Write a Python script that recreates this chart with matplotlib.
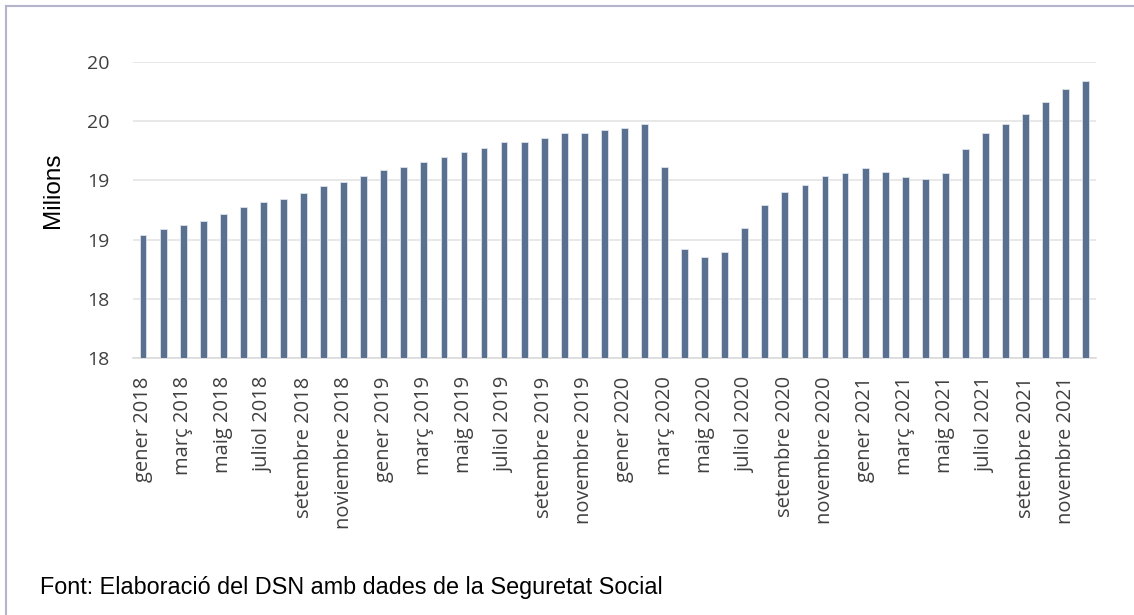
import numpy as np
import matplotlib.pyplot as plt
from matplotlib.lines import Line2D

# afiliats mensuals (milions), gener 2018 - desembre 2021
mesos = ['gener', 'febrer', 'març', 'abril', 'maig', 'juny', 'juliol', 'agost',
         'setembre', 'octubre', 'novembre', 'desembre']
anys = [2018, 2019, 2020, 2021]
valors = [18.540, 18.588, 18.621, 18.658, 18.717, 18.773, 18.818, 18.846,
          18.891, 18.955, 18.984, 19.040,
          19.088, 19.116, 19.155, 19.197, 19.237, 19.276, 19.321, 19.326,
          19.355, 19.397, 19.402, 19.425,
          19.442, 19.478, 19.116, 18.422, 18.354, 18.399, 18.596, 18.795,
          18.902, 18.961, 19.037, 19.062,
          19.105, 19.071, 19.026, 19.014, 19.062, 19.265, 19.397, 19.476,
          19.557, 19.664, 19.771, 19.841]
etiquetes = [f'{m} {a}' for a in anys for m in mesos]
etiquetes[10] = 'noviembre 2018'
y_ticks = [17.5, 18.0, 18.5, 19.0, 19.5, 20.0]
y_labels = ['18', '18', '19', '19', '20', '20']

fig = plt.figure(figsize=(11.34, 6.15), dpi=100)
ax = fig.add_axes([0.1173, 0.4174, 0.849, 0.4823])

x = np.arange(len(valors))
ax.bar(x, np.array(valors) - 17.5, bottom=17.5, width=0.34,
       color='#5A7090', edgecolor='#DDE3EC', linewidth=0.6, zorder=3)

ax.set_xlim(-0.5, len(valors) - 0.5)
ax.set_ylim(17.5, 20.0)
ax.set_yticks(y_ticks)
ax.set_yticklabels(y_labels, fontsize=14, color='#404040', family='Open Sans')
ax.set_xticks(x[::2])
ax.set_xticklabels(etiquetes[::2], rotation=90, fontsize=14.5, color='#404040',
                   family='Open Sans')
ax.tick_params(axis='y', length=0, pad=17)
ax.tick_params(axis='x', length=0, pad=13)
ax.grid(axis='y', color='#E4E4E4', linewidth=1.2, zorder=0)
for s in ['top', 'right', 'left']:
    ax.spines[s].set_visible(False)
ax.spines['bottom'].set_color('#DADADA')
ax.spines['bottom'].set_linewidth(1.2)

fig.text(0.047, 0.69, 'Milions', rotation=90, ha='center', va='center',
         fontsize=17.5, family='Liberation Sans')
fig.text(0.035, 0.044, 'Font: Elaboració del DSN amb dades de la Seguretat Social',
         fontsize=16.8, family='Liberation Sans', va='center')

# marc del quadre
fig.add_artist(Line2D([6 / 1134, 1], [1 - 6 / 615, 1 - 6 / 615],
                      transform=fig.transFigure, color='#B4B4CC', linewidth=1.5))
fig.add_artist(Line2D([6 / 1134, 6 / 1134], [0, 1 - 6 / 615],
                      transform=fig.transFigure, color='#B4B4CC', linewidth=1.5))

fig.savefig('out.png', dpi=100)
